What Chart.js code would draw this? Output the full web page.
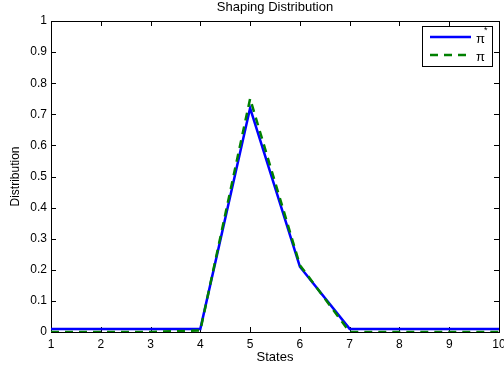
<!DOCTYPE html>
<html>
<head>
<meta charset="utf-8">
<script src="https://cdn.jsdelivr.net/npm/chart.js@4/dist/chart.umd.min.js"></script>
<style>
html, body { margin: 0; padding: 0; background: #fff; }
</style>
</head>
<body>
<canvas id="grafico" width="504" height="370"></canvas>
<script>
// dados
var estados = [1, 2, 3, 4, 5, 6, 7, 8, 9, 10];
var piEstrela = [0.01, 0.01, 0.01, 0.01, 0.72, 0.21, 0.01, 0.01, 0.01, 0.01];
var piOriginal = [0, 0, 0, 0.005, 0.75, 0.215, 0, 0, 0, 0];
var xTicks = [1, 2, 3, 4, 5, 6, 7, 8, 9, 10];
var yTicks = [0, 0.1, 0.2, 0.3, 0.4, 0.5, 0.6, 0.7, 0.8, 0.9, 1];
var titulo = "Shaping Distribution";

var FONTE = "'Liberation Sans', Arial, sans-serif";

function pontos(valores) {
    return estados.map(function (x, i) {
        return { x: x, y: valores[i] };
    });
}

// moldura e marcas internas estilo MATLAB
var molduraMatlab = {
    id: 'molduraMatlab',
    beforeDatasetsDraw: function (chart) {
        var ctx = chart.ctx;
        var area = chart.chartArea;
        var sx = chart.scales.x;
        var sy = chart.scales.y;
        var tam = 5;
        ctx.save();
        ctx.strokeStyle = '#000';
        ctx.lineWidth = 1;
        ctx.beginPath();
        xTicks.forEach(function (v) {
            var px = Math.round(sx.getPixelForValue(v)) + 0.5;
            ctx.moveTo(px, area.bottom);
            ctx.lineTo(px, area.bottom - tam);
            ctx.moveTo(px, area.top);
            ctx.lineTo(px, area.top + tam);
        });
        yTicks.forEach(function (v) {
            var py = Math.round(sy.getPixelForValue(v)) + 0.5;
            ctx.moveTo(area.left, py);
            ctx.lineTo(area.left + tam, py);
            ctx.moveTo(area.right, py);
            ctx.lineTo(area.right - tam, py);
        });
        ctx.stroke();
        ctx.strokeRect(Math.round(area.left) + 0.5, Math.round(area.top) + 0.5,
            Math.round(area.right - area.left), Math.round(area.bottom - area.top));
        ctx.restore();
    },
    afterDraw: function (chart) {
        var ctx = chart.ctx;
        var area = chart.chartArea;
        ctx.save();
        // título
        ctx.fillStyle = '#000';
        ctx.font = '13px ' + FONTE;
        ctx.textAlign = 'center';
        ctx.textBaseline = 'middle';
        ctx.fillText(titulo, (area.left + area.right) / 2, 7);

        // legenda dentro do gráfico
        var bx = 422, by = 26, bw = 70, bh = 40;
        ctx.fillStyle = '#fff';
        ctx.fillRect(bx, by, bw, bh);
        ctx.strokeStyle = '#000';
        ctx.lineWidth = 1;
        ctx.strokeRect(bx + 0.5, by + 0.5, bw, bh);
        chart.data.datasets.forEach(function (ds, i) {
            var ly = by + 11 + i * 18;
            ctx.strokeStyle = ds.borderColor;
            ctx.lineWidth = ds.borderWidth;
            ctx.setLineDash(ds.borderDash || []);
            ctx.beginPath();
            ctx.moveTo(bx + 8, ly);
            ctx.lineTo(bx + 49, ly);
            ctx.stroke();
            ctx.setLineDash([]);
            ctx.fillStyle = '#000';
            ctx.font = '13px ' + FONTE;
            ctx.textAlign = 'left';
            ctx.textBaseline = 'middle';
            ctx.fillText('\u03c0', bx + 54, ly + 2);
            if (ds.sup) {
                ctx.font = '9px ' + FONTE;
                ctx.fillText(ds.sup, bx + 62, ly - 6);
            }
        });
        ctx.restore();
    }
};

function rotulo(v) {
    return String(Math.round(v * 10) / 10);
}

var ctx = document.getElementById('grafico').getContext('2d');
var grafico = new Chart(ctx, {
    type: 'line',
    data: {
        datasets: [
            {
                label: '\u03c0*',
                sup: '*',
                data: pontos(piEstrela),
                borderColor: '#0000ff',
                borderWidth: 2.5,
                pointRadius: 0,
                tension: 0,
                order: 1
            },
            {
                label: '\u03c0',
                data: pontos(piOriginal),
                borderColor: '#008000',
                borderWidth: 2.5,
                borderDash: [8, 6],
                pointRadius: 0,
                tension: 0,
                order: 0
            }
        ]
    },
    options: {
        responsive: false,
        animation: false,
        devicePixelRatio: 1,
        layout: { padding: { left: 0, right: 5, top: 21, bottom: 0 } },
        plugins: {
            legend: { display: false },
            title: { display: false },
            tooltip: { enabled: false }
        },
        scales: {
            x: {
                type: 'linear',
                min: 1,
                max: 10,
                grid: { display: false, drawTicks: false },
                border: { display: false },
                afterBuildTicks: function (scale) {
                    scale.ticks = xTicks.map(function (v) { return { value: v }; });
                },
                afterFit: function (scale) {
                    scale.height = 38;
                    scale.paddingLeft = 0;
                    scale.paddingRight = 0;
                },
                ticks: {
                    color: '#000',
                    padding: 5,
                    maxRotation: 0,
                    autoSkip: false,
                    callback: rotulo,
                    font: { family: FONTE, size: 12 }
                },
                title: {
                    display: true,
                    text: 'States',
                    color: '#000',
                    font: { family: FONTE, size: 13 },
                    padding: { top: 0, bottom: 5 }
                }
            },
            y: {
                min: 0,
                max: 1,
                grid: { display: false, drawTicks: false },
                border: { display: false },
                afterBuildTicks: function (scale) {
                    scale.ticks = yTicks.map(function (v) { return { value: v }; });
                },
                afterFit: function (scale) {
                    scale.width = 51;
                    scale.paddingTop = 0;
                    scale.paddingBottom = 0;
                },
                ticks: {
                    color: '#000',
                    padding: 4,
                    autoSkip: false,
                    callback: rotulo,
                    font: { family: FONTE, size: 12 }
                },
                title: {
                    display: true,
                    text: 'Distribution',
                    color: '#000',
                    font: { family: FONTE, size: 12 },
                    padding: { top: 8, bottom: 0 }
                }
            }
        }
    },
    plugins: [molduraMatlab]
});
</script>
</body>
</html>
